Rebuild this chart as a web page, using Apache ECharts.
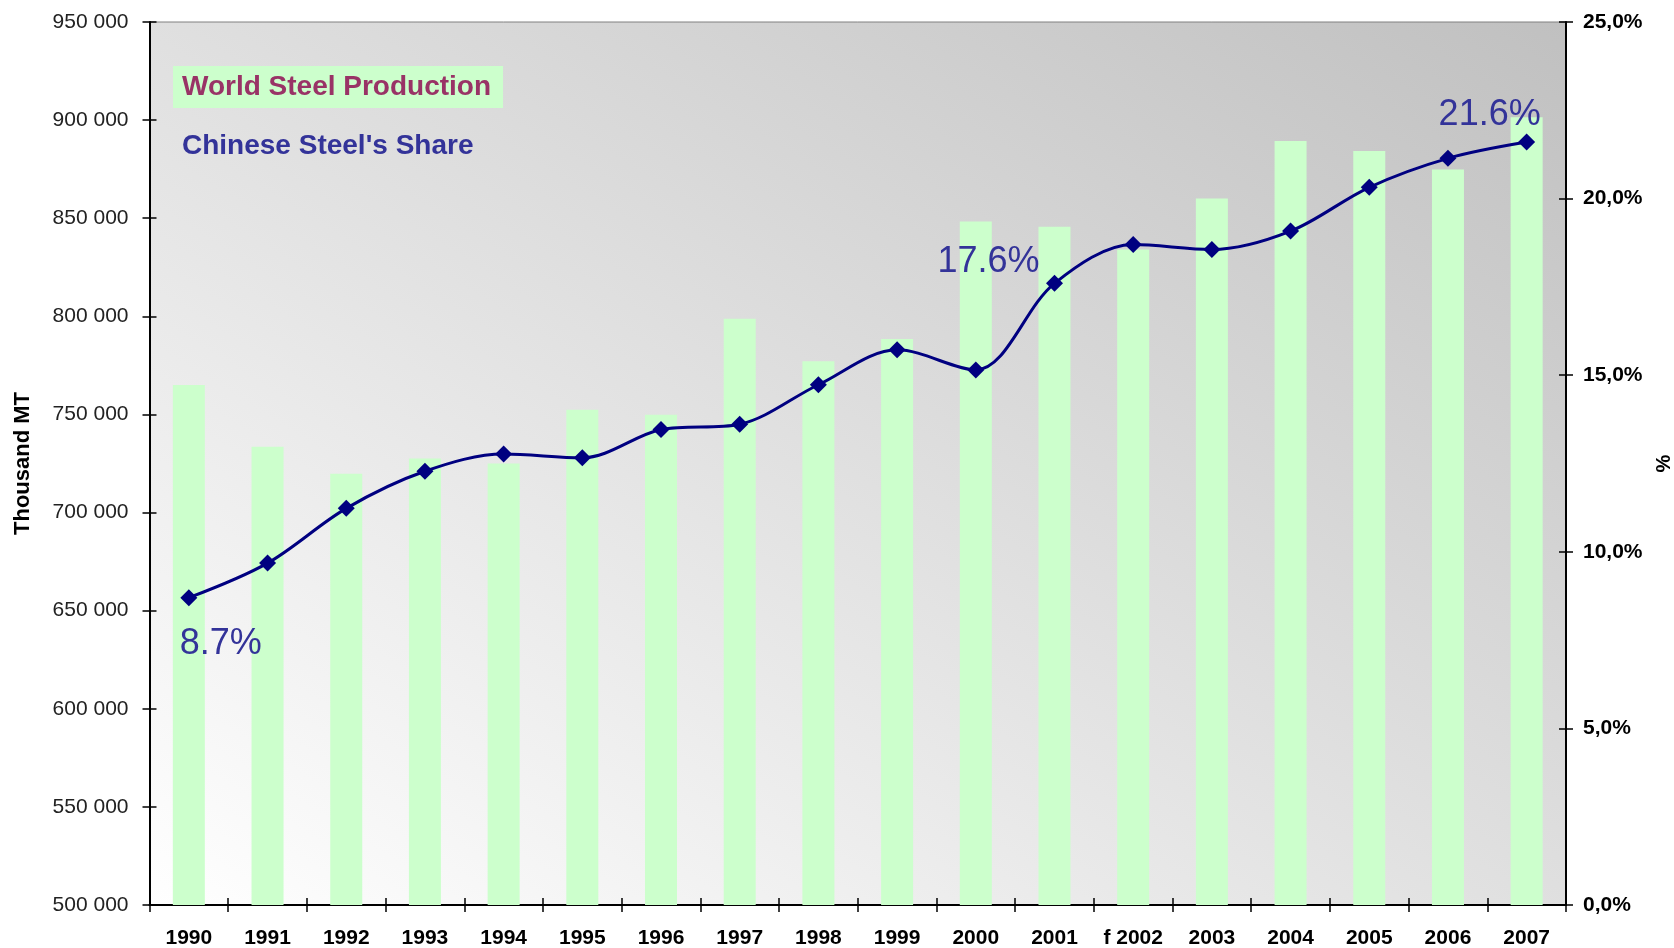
<!DOCTYPE html>
<html><head><meta charset="utf-8">
<script src="https://cdn.jsdelivr.net/npm/echarts@6/dist/echarts.min.js"></script>
<style>html,body{margin:0;padding:0;background:#fff}#c{width:1674px;height:948px}</style>
</head><body><div id="c"></div>
<script>
// ---- data ----
const years = ['1990','1991','1992','1993','1994','1995','1996','1997','1998','1999','2000','2001','f 2002','2003','2004','2005','2006','2007'];
const worldProduction = [765000, 733500, 719800, 727600, 725000, 752400, 749900, 798800, 777100, 788500, 848300, 845700, 834000, 860100, 889400, 884200, 874800, 901500];
const chineseShare = [8.7, 9.68, 11.23, 12.28, 12.77, 12.66, 13.46, 13.61, 14.73, 15.72, 15.15, 17.6, 18.70, 18.56, 19.08, 20.32, 21.14, 21.6];
const leftMin = 500000, leftMax = 950000, leftStep = 50000;
const rightMin = 0, rightMax = 25, rightStep = 5;
const seriesNames = ['World Steel Production', "Chinese Steel's Share"];
const leftAxisName = 'Thousand MT';
const rightAxisName = '%';
const annotated = [0, 11, 17];

// ---- layout / style ----
const G = {left: 149.5, right: 108, top: 22, bottom: 43};
const W = 1674, H = 948;
const gw = W - G.left - G.right, gh = H - G.top - G.bottom;
const x0 = G.left, y0 = H - G.bottom;
const s = (gw * gh * 2) / (gh * gh + gw * gw);
const bg = {type: 'linear', global: true, x: x0, y: y0, x2: x0 + gh * s, y2: y0 - gw * s,
  colorStops: [{offset: 0, color: '#ffffff'}, {offset: 1, color: '#c0c0c0'}]};
const labelOffsets = {0: [32, 46], 11: [-66, -21], 17: [-37, -27]};

const fmtLeft = v => String(v).replace(/\B(?=(\d{3})+(?!\d))/g, ' ');
const fmtRight = v => v.toFixed(1).replace('.', ',') + '%';

const lineData = chineseShare.map((v, i) => {
  if (!annotated.includes(i)) return v;
  return {value: v, label: {show: true, position: 'inside', offset: labelOffsets[i],
    formatter: p => p.value.toFixed(1) + '%', color: '#333399', fontSize: 36,
    fontFamily: 'Liberation Sans, Arial, sans-serif'}};
});

const axisLineBlack = {show: true, lineStyle: {color: '#000', width: 2}};
const chart = echarts.init(document.getElementById('c'), null, {renderer: 'canvas'});
chart.setOption({
  animation: false,
  backgroundColor: '#ffffff',
  grid: {left: G.left, right: G.right, top: G.top, bottom: G.bottom, show: true, containLabel: false,
    outerBoundsMode: 'none',
    backgroundColor: bg, borderColor: '#808080', borderWidth: 1},
  legend: {
    orient: 'vertical', left: 163, top: 61, icon: 'none', itemWidth: 0, itemHeight: 0, itemGap: 17,
    selectedMode: false,
    data: [
      {name: seriesNames[0], textStyle: {color: '#993366', backgroundColor: '#ccffcc', padding: [7, 12, 7, 9]}},
      {name: seriesNames[1], textStyle: {color: '#333399', padding: [7, 12, 7, 9]}}
    ],
    textStyle: {fontSize: 28, fontWeight: 'bold', fontFamily: 'Liberation Sans, Arial, sans-serif', lineHeight: 28}
  },
  xAxis: [
    {type: 'category', data: years, boundaryGap: true, position: 'bottom',
      axisLine: axisLineBlack, axisTick: {show: true, inside: false, length: 7, lineStyle: {color: '#000', width: 1.5}},
      axisLabel: {color: '#000', fontSize: 21, fontWeight: 'bold', fontFamily: 'Liberation Sans, Arial, sans-serif', margin: 23, interval: 0},
      splitLine: {show: false}},
    {type: 'category', data: years, boundaryGap: true, position: 'bottom',
      axisLine: {show: false}, axisTick: {show: true, inside: true, length: 7, lineStyle: {color: '#000', width: 1.5}},
      axisLabel: {show: false}, splitLine: {show: false}}
  ],
  yAxis: [
    {type: 'value', min: leftMin, max: leftMax, interval: leftStep, position: 'left',
      name: leftAxisName, nameLocation: 'middle', nameGap: 116, nameRotate: 90,
      nameTextStyle: {color: '#000', fontSize: 22, fontWeight: 'bold', fontFamily: 'Liberation Sans, Arial, sans-serif'},
      axisLine: axisLineBlack, axisTick: {show: true, length: 7, lineStyle: {color: '#000', width: 1.5}},
      axisLabel: {formatter: fmtLeft, color: '#222', fontSize: 21, fontFamily: 'Liberation Sans, Arial, sans-serif', margin: 21},
      splitLine: {show: false}},
    {type: 'value', min: rightMin, max: rightMax, interval: rightStep, position: 'right',
      name: rightAxisName, nameLocation: 'middle', nameGap: 88, nameRotate: 90,
      nameTextStyle: {color: '#000', fontSize: 20, fontWeight: 'bold', fontFamily: 'Liberation Sans, Arial, sans-serif'},
      axisLine: axisLineBlack, axisTick: {show: true, length: 7, lineStyle: {color: '#000', width: 1.5}},
      axisLabel: {formatter: fmtRight, color: '#000', fontSize: 21, fontWeight: 'bold', fontFamily: 'Liberation Sans, Arial, sans-serif', margin: 17},
      splitLine: {show: false}},
    {type: 'value', min: leftMin, max: leftMax, interval: leftStep, position: 'left',
      axisLine: {show: false}, axisTick: {show: true, inside: true, length: 7, lineStyle: {color: '#000', width: 1.5}},
      axisLabel: {show: false}, splitLine: {show: false}},
    {type: 'value', min: rightMin, max: rightMax, interval: rightStep, position: 'right',
      axisLine: {show: false}, axisTick: {show: true, inside: true, length: 7, lineStyle: {color: '#000', width: 1.5}},
      axisLabel: {show: false}, splitLine: {show: false}}
  ],
  series: [
    {name: seriesNames[0], type: 'bar', xAxisIndex: 0, yAxisIndex: 0, data: worldProduction,
      barWidth: 32, itemStyle: {color: '#ccffcc'}, z: 2},
    {name: seriesNames[1], type: 'line', xAxisIndex: 0, yAxisIndex: 1, data: lineData,
      smooth: 0.33, symbol: 'diamond', symbolSize: 17,
      lineStyle: {color: '#000080', width: 3}, itemStyle: {color: '#000080'}, z: 3}
  ]
});
</script></body></html>
